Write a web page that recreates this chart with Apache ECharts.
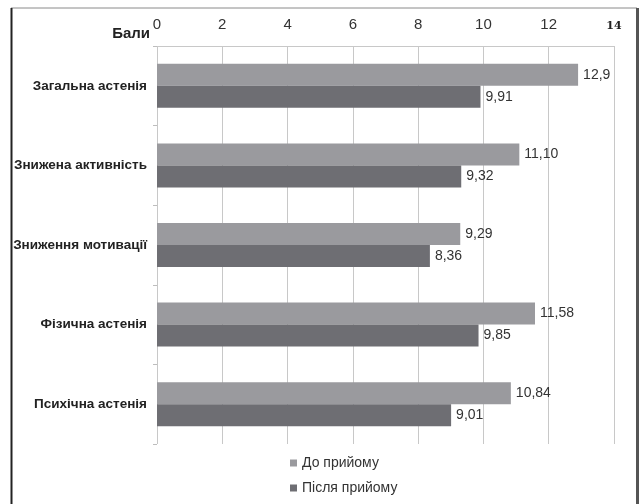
<!DOCTYPE html>
<html>
<head>
<meta charset="utf-8">
<script src="https://cdn.jsdelivr.net/npm/echarts@6/dist/echarts.min.js"></script>
<style>
  html, body { margin: 0; padding: 0; background: #fff; }
  #chart { width: 640px; height: 504px; }
</style>
</head>
<body>
<div id="chart"></div>
<script>
// Астенія: бали до і після прийому
const categories = [
  'Загальна астенія',
  'Знижена активність',
  'Зниження мотивації',
  'Фізична астенія',
  'Психічна астенія'
];
const seriesNames = ['До прийому', 'Після прийому'];
// Значення у вигляді підписів (десяткова кома)
const beforeLabels = ['12,9', '11,10', '9,29', '11,58', '10,84'];
const afterLabels = ['9,91', '9,32', '8,36', '9,85', '9,01'];
const tickValues = [0, 2, 4, 6, 8, 10, 12, 14];
const axisTitle = 'Бали';

const toNum = s => parseFloat(s.replace(',', '.'));
const beforeValues = beforeLabels.map(toNum);
const afterValues = afterLabels.map(toNum);

const FONT = '"Liberation Sans Narrow", "Liberation Sans", Arial, sans-serif';

const chart = echarts.init(document.getElementById('chart'), null, { renderer: 'canvas' });

function makeSeries(name, values, labels, color) {
  return {
    name: name,
    type: 'bar',
    data: values,
    barWidth: 22,
    barGap: '0%',
    itemStyle: { color: color },
    label: {
      show: true,
      position: 'right',
      distance: 5,
      color: '#333',
      fontFamily: FONT,
      fontSize: 14,
      formatter: p => labels[p.dataIndex]
    }
  };
}

chart.setOption({
  backgroundColor: '#fff',
  animation: false,
  grid: { left: 157, right: 26, top: 46, bottom: 60 },
  xAxis: {
    type: 'value',
    position: 'top',
    min: 0,
    max: 14,
    interval: 2,
    axisLine: { show: true, lineStyle: { color: '#c8c8c8', width: 1 } },
    axisTick: { show: false },
    splitLine: { show: true, lineStyle: { color: '#c8c8c8', width: 1 } },
    axisLabel: {
      margin: 14,
      color: '#333',
      fontFamily: FONT,
      fontSize: 15,
      formatter: v => tickValues.indexOf(v) === tickValues.length - 1 ? '{b|' + v + '}' : String(v),
      rich: { b: { fontWeight: 'bold', fontSize: 11, color: '#222', fontFamily: 'DejaVu Serif, serif', padding: [8, 0, 0, 0] } }
    }
  },
  yAxis: {
    type: 'category',
    data: categories,
    inverse: true,
    axisLine: { show: false },
    axisTick: { show: true, length: 4, lineStyle: { color: '#bdbdbd' } },
    axisLabel: {
      margin: 10,
      color: '#222',
      fontFamily: FONT,
      fontSize: 13.5,
      fontWeight: 'bold'
    }
  },
  legend: {
    orient: 'vertical',
    left: 285,
    top: 451,
    itemWidth: 7,
    itemHeight: 7,
    itemGap: 11,
    icon: 'rect',
    textStyle: { fontFamily: FONT, fontSize: 14, color: '#333', padding: [0, 0, 0, 0] },
    data: seriesNames
  },
  series: [
    makeSeries(seriesNames[0], beforeValues, beforeLabels, '#9a9a9e'),
    makeSeries(seriesNames[1], afterValues, afterLabels, '#6e6e73')
  ],
  graphic: [
    {
      type: 'text', x: 150, y: 34,
      style: {
        text: axisTitle, align: 'right', verticalAlign: 'middle',
        font: 'bold 15px ' + FONT, fill: '#222'
      }
    },
    { type: 'line', shape: { x1: 11, y1: 8, x2: 637, y2: 8 }, style: { stroke: '#8a8a8a', lineWidth: 1 } },
    { type: 'line', shape: { x1: 11.5, y1: 8, x2: 11.5, y2: 504 }, style: { stroke: '#222', lineWidth: 2 } },
    { type: 'line', shape: { x1: 637.5, y1: 8, x2: 637.5, y2: 504 }, style: { stroke: '#555', lineWidth: 3 } }
  ]
});
</script>
</body>
</html>
